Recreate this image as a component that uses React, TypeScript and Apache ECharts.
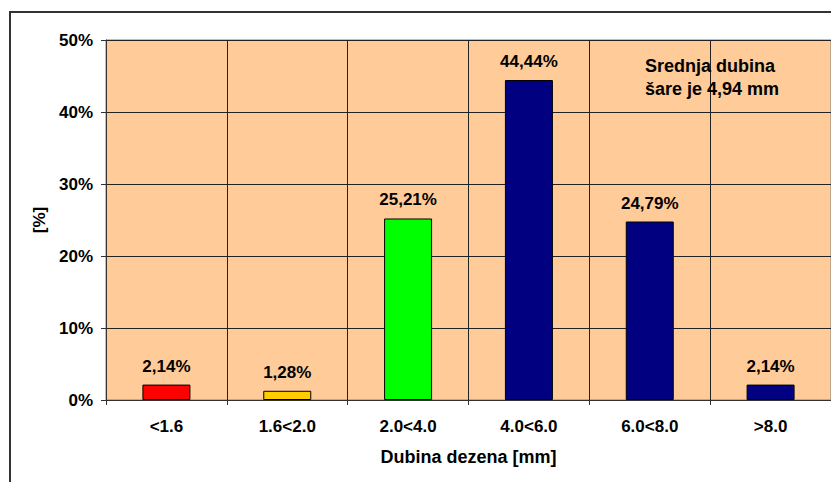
import React, { useEffect, useRef } from "react";
import * as echarts from "echarts";

const categories = ["<1.6", "1.6<2.0", "2.0<4.0", "4.0<6.0", "6.0<8.0", ">8.0"];
const values = [2.14, 1.28, 25.21, 44.44, 24.79, 2.14];
const barColors = ["#FF0000", "#FFCC00", "#00FF00", "#000080", "#000080", "#000080"];
const yTicks = [0, 10, 20, 30, 40, 50];
const xTitle = "Dubina dezena [mm]";
const yTitle = "[%]";
const noteLines = ["Srednja dubina", "šare je 4,94 mm"];

const FONT = "'Liberation Sans', Arial, sans-serif";

export default function App() {
  const ref = useRef<HTMLDivElement>(null);
  useEffect(() => {
    if (!ref.current) return;
    const chart = echarts.init(ref.current, null, { renderer: "svg" });
    const option: any = {
      animation: false,
      backgroundColor: "#FFFFFF",
      textStyle: { fontFamily: FONT, fontWeight: "bold", color: "#000" },
      grid: {
        left: 106,
        top: 40,
        width: 726,
        height: 360,
        show: true,
        backgroundColor: "#FFCC99",
        borderColor: "#808080",
        borderWidth: 1,
      },
      graphic: [
        {
          type: "rect",
          shape: { x: 10, y: 12, width: 1000, height: 1000 },
          style: { fill: "none", stroke: "#333", lineWidth: 2 },
          z: 100,
        },
        {
          type: "text",
          left: 645,
          top: 54,
          style: {
            text: noteLines.join("\n"),
            font: `bold 18px ${FONT}`,
            fill: "#000",
            lineHeight: 23,
          },
          z: 100,
        },
      ],
      xAxis: {
        type: "category",
        data: categories,
        name: xTitle,
        nameLocation: "middle",
        nameGap: 48,
        nameTextStyle: { fontFamily: FONT, fontWeight: "bold", fontSize: 18, color: "#000" },
        axisLine: { show: true, lineStyle: { color: "#333", width: 1 } },
        axisTick: { show: true, alignWithLabel: false, length: 5, lineStyle: { color: "#333" } },
        axisLabel: { margin: 18, fontFamily: FONT, fontWeight: "bold", fontSize: 17, color: "#000" },
        splitLine: { show: true, lineStyle: { color: "#222", width: 1 } },
      },
      yAxis: {
        type: "value",
        min: yTicks[0],
        max: yTicks[yTicks.length - 1],
        interval: 10,
        name: yTitle,
        nameLocation: "middle",
        nameGap: 58,
        nameRotate: 90,
        nameTextStyle: { fontFamily: FONT, fontWeight: "bold", fontSize: 17, color: "#000" },
        axisLine: { show: true, lineStyle: { color: "#333", width: 1 } },
        axisTick: { show: true, length: 5, inside: false, lineStyle: { color: "#333" } },
        axisLabel: {
          margin: 13,
          formatter: "{value}%",
          fontFamily: FONT,
          fontWeight: "bold",
          fontSize: 17,
          color: "#000",
        },
        splitLine: { show: true, lineStyle: { color: "#222", width: 1 } },
      },
      series: [
        {
          type: "bar",
          barWidth: 48,
          data: values.map((v, i) => ({
            value: v,
            itemStyle: { color: barColors[i], borderColor: "#000", borderWidth: 1 },
          })),
          label: {
            show: true,
            position: "top",
            distance: 10,
            fontFamily: FONT,
            fontWeight: "bold",
            fontSize: 17,
            color: "#000",
            formatter: (p: any) => p.value.toFixed(2).replace(".", ",") + "%",
          },
        },
      ],
    };
    chart.setOption(option);
    return () => chart.dispose();
  }, []);
  return (
    <div
      ref={ref}
      style={{ position: "fixed", left: 0, top: 0, width: 831, height: 482 }}
    />
  );
}
